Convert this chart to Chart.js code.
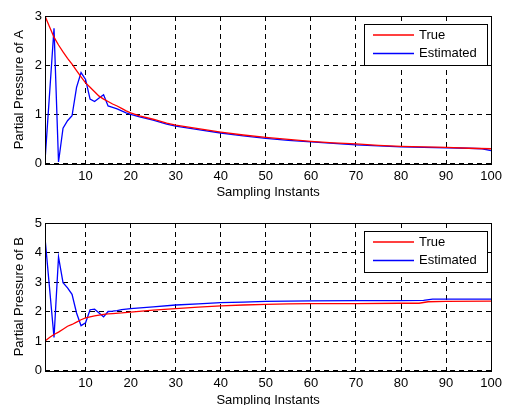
<!DOCTYPE html>
<html>
<head>
<meta charset="utf-8">
<script src="https://cdn.jsdelivr.net/npm/chart.js@4.4.1/dist/chart.umd.min.js"></script>
<style>
   html, body { margin: 0; padding: 0; background: #fff; overflow: hidden; width: 507px; height: 405px; }
   .plot { position: absolute; left: 0; }
   #wrapA { top: 0; }
   #wrapB { top: 202px; }
</style>
</head>
<body>
<div class="plot" id="wrapA"><canvas id="chartA" width="507" height="202"></canvas></div>
<div class="plot" id="wrapB"><canvas id="chartB" width="507" height="210"></canvas></div>
<script>
   // values
   const xTicks = [10, 20, 30, 40, 50, 60, 70, 80, 90, 100];
   const yTicksA = [0, 1, 2, 3];
   const yTicksB = [0, 1, 2, 3, 4, 5];

   const trueA_x = [1,2,3,4,5,6,7,8,9,10,11,12,13,14,15,16,17,18,19,20,22,25,28,30,35,40,45,50,55,60,65,70,75,80,85,90,95,100];
   const trueA_y = [3.0,2.78,2.57,2.41,2.27,2.14,2.02,1.89,1.76,1.64,1.55,1.46,1.37,1.31,1.26,1.21,1.17,1.12,1.07,1.03,0.97,0.9,0.82,0.78,0.71,0.64,0.58,0.53,0.49,0.45,0.42,0.40,0.37,0.35,0.34,0.33,0.31,0.30];

   const estA_x = [1,3,4,5,6,7,8,9,10,11,12,13,14,15,16,17,18,19,20,22,25,28,30,35,40,45,50,55,60,65,70,75,80,85,90,95,98,100];
   const estA_y = [0.05,2.75,0.03,0.72,0.87,0.97,1.55,1.85,1.71,1.31,1.26,1.33,1.4,1.17,1.14,1.11,1.07,1.03,1.0,0.95,0.88,0.8,0.76,0.69,0.62,0.56,0.51,0.47,0.44,0.41,0.38,0.36,0.34,0.33,0.32,0.31,0.30,0.26];

   const trueB_x = [1,2,3,4,5,6,7,8,9,10,11,12,13,14,15,16,18,20,25,30,35,40,45,50,55,60,70,80,84,86,90,100];
   const trueB_y = [1.0,1.12,1.22,1.3,1.4,1.5,1.56,1.64,1.72,1.78,1.82,1.85,1.88,1.9,1.92,1.93,1.95,1.98,2.05,2.1,2.15,2.19,2.22,2.24,2.26,2.27,2.27,2.28,2.28,2.33,2.34,2.35];

   const estB_x = [1,3,4,5,6,7,8,9,10,11,12,13,14,15,16,17,18,20,25,30,35,40,45,50,55,60,70,80,85,87,90,100];
   const estB_y = [4.5,1.12,3.85,2.98,2.8,2.58,1.95,1.52,1.62,2.06,2.08,1.95,1.82,2.0,2.01,2.03,2.06,2.1,2.16,2.22,2.26,2.3,2.32,2.34,2.35,2.36,2.37,2.37,2.38,2.42,2.42,2.42];

   const seriesNames = ['True', 'Estimated'];
   const seriesColors = ['#ff0000', '#0000ff'];

   const FONT = { family: '"Liberation Sans", Arial, sans-serif', size: 13 };

   function pts(xs, ys) {
      return xs.map((x, i) => ({ x: x, y: ys[i] }));
   }

   // box round the axes + legend box in the upper right
   const boxPlugin = {
      id: 'boxPlugin',
      afterDraw(chart) {
         const ctx = chart.ctx;
         const a = chart.chartArea;
         ctx.save();
         ctx.strokeStyle = '#000';
         ctx.lineWidth = 1;
         ctx.setLineDash([]);
         ctx.strokeRect(Math.round(a.left) + 0.5, Math.round(a.top) + 0.5,
            Math.round(a.right - a.left), Math.round(a.bottom - a.top));

         const w = 123, h = 41;
         const lx = Math.round(a.right) - 4 - w;
         const ly = Math.round(a.top) + 8;
         ctx.fillStyle = '#fff';
         ctx.fillRect(lx, ly, w, h);
         ctx.strokeRect(lx + 0.5, ly + 0.5, w, h);
         ctx.font = FONT.size + 'px ' + FONT.family;
         ctx.textBaseline = 'middle';
         seriesNames.forEach((name, i) => {
            const y = ly + 11 + i * 18.5;
            ctx.beginPath();
            ctx.strokeStyle = seriesColors[i];
            ctx.lineWidth = 1.4;
            ctx.moveTo(lx + 9, y);
            ctx.lineTo(lx + 50, y);
            ctx.stroke();
            ctx.fillStyle = '#000';
            ctx.fillText(name, lx + 55, y);
         });
         ctx.restore();
      }
   };

   function makeChart(id, dsTrue, dsEst, yTicks, yMax, yTitle, topPad, xHeight, titlePad) {
      return new Chart(document.getElementById(id), {
         type: 'line',
         data: {
            datasets: [
               { label: seriesNames[0], data: dsTrue, borderColor: seriesColors[0], borderWidth: 1.3, pointRadius: 0, tension: 0 },
               { label: seriesNames[1], data: dsEst, borderColor: seriesColors[1], borderWidth: 1.3, pointRadius: 0, tension: 0 }
            ]
         },
         options: {
            responsive: false,
            animation: false,
            devicePixelRatio: 1,
            layout: { padding: { left: 0, right: 11.5, top: topPad, bottom: 0 } },
            plugins: { legend: { display: false }, tooltip: { enabled: false } },
            scales: {
               x: {
                  type: 'linear',
                  min: 1,
                  max: 100,
                  afterBuildTicks: (s) => { s.ticks = xTicks.map(v => ({ value: v })); },
                  afterFit: (s) => { s.height = xHeight; },
                  ticks: { color: '#000', font: FONT, padding: 5, maxRotation: 0 },
                  grid: { color: '#000', lineWidth: 1, drawTicks: false },
                  border: { display: false, dash: [5, 4] },
                  title: { display: true, text: 'Sampling Instants', color: '#000', font: FONT, padding: { top: 0, bottom: titlePad } }
               },
               y: {
                  type: 'linear',
                  min: 0,
                  max: yMax,
                  afterBuildTicks: (s) => { s.ticks = yTicks.map(v => ({ value: v })); },
                  afterFit: (s) => { s.width = 45; },
                  ticks: { color: '#000', font: FONT, padding: 3 },
                  grid: { color: '#000', lineWidth: 1, drawTicks: false },
                  border: { display: false, dash: [5, 4] },
                  title: { display: true, text: yTitle, color: '#000', font: FONT, padding: { top: 12, bottom: 0 } }
               }
            }
         },
         plugins: [boxPlugin]
      });
   }

   makeChart('chartA', pts(trueA_x, trueA_y), pts(estA_x, estA_y), yTicksA, 3, 'Partial Pressure of A', 16, 38.5, 2.2);
   makeChart('chartB', pts(trueB_x, trueB_y), pts(estB_x, estB_y), yTicksB, 5, 'Partial Pressure of B', 21, 41.5, 4.2);
</script>
</body>
</html>
